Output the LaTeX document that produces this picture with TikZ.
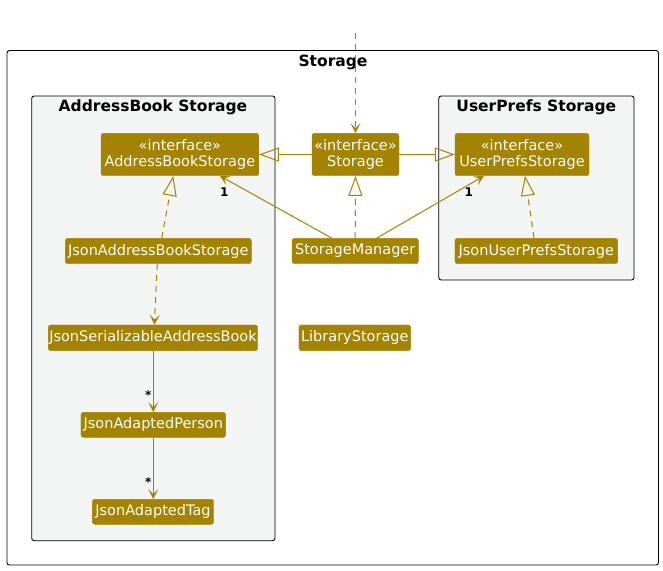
\documentclass[tikz,border=0pt]{standalone}
\usepackage{fontspec}
\setmainfont{DejaVu Sans}
\usetikzlibrary{arrows.meta,positioning}
\definecolor{stor}{HTML}{A38300}
\definecolor{pkgbg}{HTML}{F3F4F4}
\tikzset{
  cls/.style={fill=stor, draw=stor, rounded corners=2.5pt, text=white, inner sep=0pt,
    font=\fontsize{14.5}{16.6}\selectfont, align=center},
  pkg/.style={draw=black, line width=0.9pt, rounded corners=2.5pt},
  pkgtitle/.style={font=\fontsize{15.5}{18}\selectfont\bfseries, inner sep=0pt},
  edge/.style={draw=stor, line width=1pt},
  dep/.style={edge, dash pattern=on 6pt off 5pt},
  ext/.style={-{Triangle[open,length=20pt,width=14pt,line width=1pt]}},
  assoc/.style={-{Stealth[length=10pt,width=10pt,inset=5pt]}},
  mult/.style={font=\fontsize{12}{14}\selectfont\bfseries, inner sep=0pt, text=black},
}
\begin{document}
\begin{tikzpicture}[x=1pt,y=-1pt]
\useasboundingbox (0,0) rectangle (663,570);
% packages
\draw[pkg, fill=white] (7,50.5) rectangle (658.5,565);
\node[pkgtitle] (tStorage) at (333,62) {Storage};
\draw[pkg, fill=pkgbg] (31.7,96) rectangle (275,540.7);
\node[pkgtitle] (tAB) at (153,107) {AddressBook Storage};
\draw[pkg, fill=pkgbg] (438.7,96) rectangle (634,280);
\node[pkgtitle] (tUP) at (536.3,107) {UserPrefs Storage};
% classes
\node[cls, minimum width=157.7pt, minimum height=42.4pt] (abs) at (179.9,154.5) {«interface»\\AddressBookStorage};
\node[cls, minimum width=87pt, minimum height=42.4pt] (sto) at (355.5,154.5) {«interface»\\Storage};
\node[cls, minimum width=134pt, minimum height=42.4pt] (ups) at (522,154.5) {«interface»\\UserPrefsStorage};
\node[cls, minimum width=186pt, minimum height=25.4pt] (jabs) at (158.3,251) {JsonAddressBookStorage};
\node[cls, minimum width=126.3pt, minimum height=25.4pt] (sm) at (355.2,251) {StorageManager};
\node[cls, minimum width=162.7pt, minimum height=25.4pt] (jups) at (536.3,251) {JsonUserPrefsStorage};
\node[cls, minimum width=209.4pt, minimum height=25.7pt] (jsab) at (153,337.8) {JsonSerializableAddressBook};
\node[cls, minimum width=111.7pt, minimum height=25.7pt] (lib) at (354.8,337.8) {LibraryStorage};
\node[cls, minimum width=144.7pt, minimum height=25pt] (jap) at (153.3,424.8) {JsonAdaptedPerson};
\node[cls, minimum width=121.4pt, minimum height=25pt] (jat) at (153,511.8) {JsonAdaptedTag};
% edges
\coordinate (top) at (355.5,33);
\draw[dep, assoc] (top) -- (sto.north);
\draw[edge, ext] (sto.west) -- (abs.east);
\draw[edge, ext] (sto.east) -- (ups.west);
\draw[dep, ext] (sm.north) -- (sto.south);
\draw[dep, ext] ([xshift=3.4pt]jabs.north) -- ([xshift=-6.6pt]abs.south);
\draw[dep, ext] ([xshift=-2.3pt]jups.north) -- ([xshift=3pt]ups.south);
\draw[edge, assoc] ([xshift=-23.5pt]sm.north) -- ([xshift=40pt]abs.south);
\draw[edge, assoc] ([xshift=21.5pt]sm.north) -- ([xshift=-38pt]ups.south);
\draw[dep, assoc] ([xshift=-1pt]jabs.south) -- ([xshift=1.3pt]jsab.north);
\draw[edge, assoc] ([xshift=0.3pt]jsab.south) -- (jap.north);
\draw[edge, assoc] (jap.south) -- ([xshift=0.3pt]jat.north);
% multiplicities
\node[mult] (m1) at (224.3,192.5) {1};
\node[mult] (m2) at (468.7,192.5) {1};
\node[mult] (m3) at (148.3,395.5) {*};
\node[mult] (m4) at (148.3,482.5) {*};
\end{tikzpicture}
\end{document}
